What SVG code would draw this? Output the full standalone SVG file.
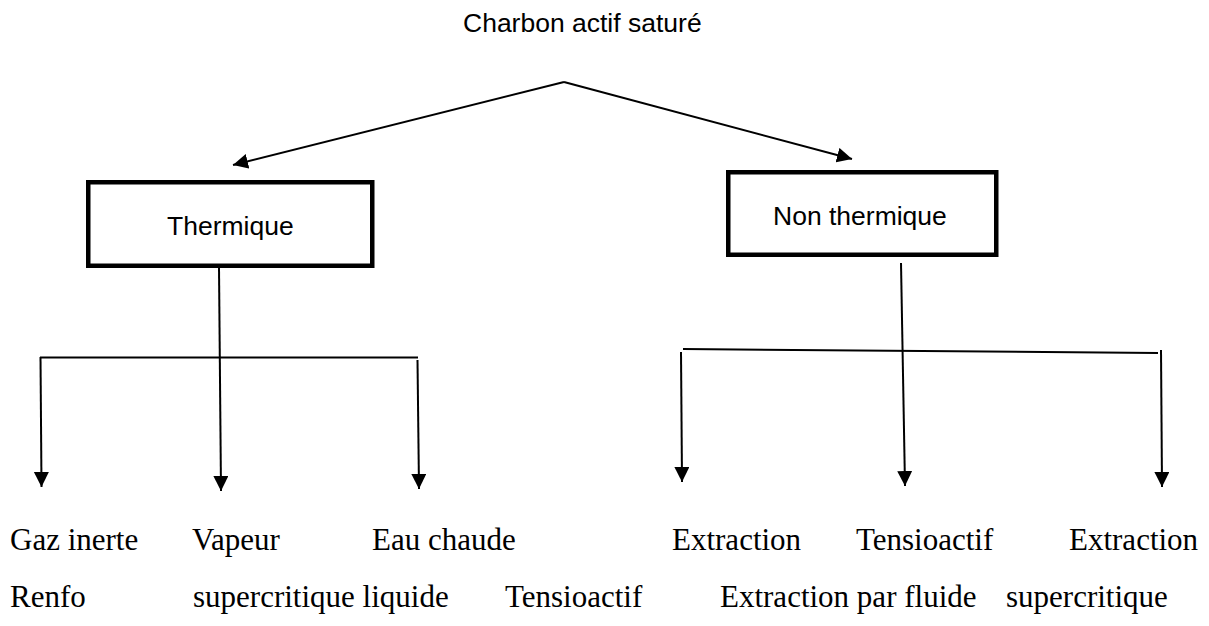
<svg xmlns="http://www.w3.org/2000/svg" width="1209" height="626" viewBox="0 0 1209 626">
<style>
.sans{font-family:"Liberation Sans",Arial,sans-serif;font-size:26.5px;fill:#000}
.serif{font-family:"Liberation Serif","Times New Roman",serif;font-size:31px;fill:#000}
.box{fill:#fff;stroke:#000;stroke-width:4.5}
.ln{fill:none;stroke:#000;stroke-width:2}
</style>
<defs>
<marker id="ah" markerUnits="userSpaceOnUse" markerWidth="16" markerHeight="16" refX="15" refY="7.5" orient="auto">
<path d="M0,0 L15,7.5 L0,15 Z" fill="#000"/>
</marker>
</defs>
<rect width="1209" height="626" fill="#fff"/>
<g id="root"><text class="sans" x="463" y="32">Charbon actif saturé</text></g>
<g id="thermique">
<rect class="box" x="88.25" y="182.25" width="284" height="83.5"/>
<text class="sans" x="167" y="235">Thermique</text>
</g>
<g id="non-thermique">
<rect class="box" x="728.25" y="172.25" width="268" height="82.5"/>
<text class="sans" x="773" y="225">Non thermique</text>
</g>
<g id="connectors" class="ln">
<line x1="564" y1="82" x2="233" y2="165" marker-end="url(#ah)"/>
<line x1="564" y1="82" x2="852" y2="159" marker-end="url(#ah)"/>
<line x1="219" y1="268" x2="221" y2="491" marker-end="url(#ah)"/>
<line x1="40" y1="357.5" x2="418" y2="357.5"/>
<line x1="40.5" y1="357" x2="41.5" y2="487" marker-end="url(#ah)"/>
<line x1="417.5" y1="360" x2="419" y2="489" marker-end="url(#ah)"/>
<line x1="901" y1="263" x2="905" y2="486" marker-end="url(#ah)"/>
<line x1="683" y1="349" x2="1158" y2="353"/>
<line x1="681" y1="352" x2="682" y2="482" marker-end="url(#ah)"/>
<line x1="1161" y1="350" x2="1162" y2="487" marker-end="url(#ah)"/>
</g>
<g id="labels">
<text class="serif" x="10" y="550">Gaz inerte</text>
<text class="serif" x="192" y="550">Vapeur</text>
<text class="serif" x="372" y="550">Eau chaude</text>
<text class="serif" x="672" y="550">Extraction</text>
<text class="serif" x="856" y="550">Tensioactif</text>
<text class="serif" x="1069" y="550">Extraction</text>
<text class="serif" x="10" y="607">Renfo</text>
<text class="serif" x="193" y="607">supercritique liquide</text>
<text class="serif" x="505" y="607">Tensioactif</text>
<text class="serif" x="720" y="607">Extraction par fluide</text>
<text class="serif" x="1006" y="607">supercritique</text>
</g>
</svg>
